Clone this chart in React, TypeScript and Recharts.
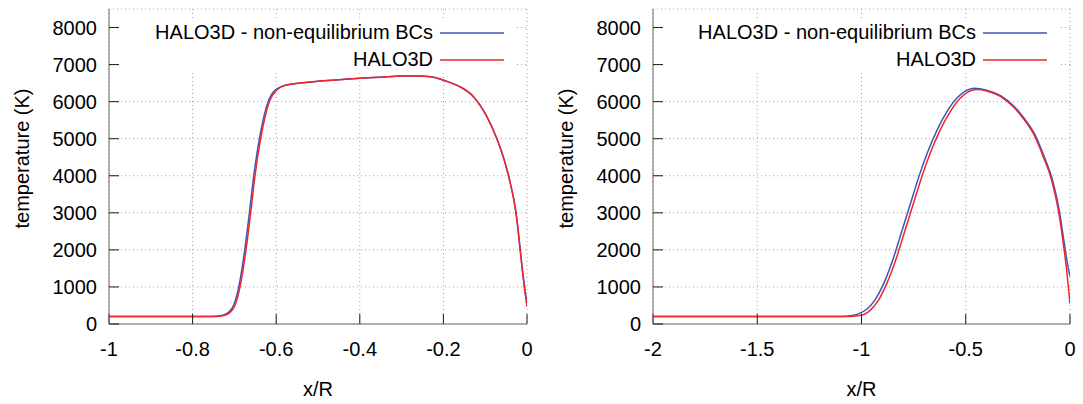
import { LineChart, Line, XAxis, YAxis, CartesianGrid, Legend } from 'recharts'

// temperature profiles, x/R against T (K)
const leftBlueX = [-1, -0.78, -0.745, -0.7255, -0.7135, -0.7016, -0.6896, -0.6752, -0.6641, -0.6537, -0.6402, -0.6194, -0.6015, -0.575, -0.543, -0.5, -0.45, -0.4, -0.35, -0.3, -0.26, -0.23, -0.208, -0.185, -0.16, -0.128, -0.096, -0.0725, -0.06, -0.048, -0.038, -0.031, -0.0245, -0.0158, -0.0063, 0]
const leftBlueT = [200, 200, 210, 245, 320, 510, 1000, 2000, 3000, 4000, 5000, 6000, 6320, 6450, 6500, 6550, 6590, 6630, 6660, 6690, 6695, 6670, 6610, 6520, 6400, 6135, 5595, 5010, 4620, 4170, 3700, 3330, 2860, 1970, 1040, 560]

const leftRedX = [-1, -0.78, -0.742, -0.7225, -0.7105, -0.6986, -0.6866, -0.6722, -0.6611, -0.6507, -0.6372, -0.6164, -0.5989, -0.575, -0.543, -0.5, -0.45, -0.4, -0.35, -0.3, -0.26, -0.23, -0.208, -0.185, -0.16, -0.128, -0.096, -0.0725, -0.06, -0.048, -0.038, -0.031, -0.0247, -0.016, -0.0065, 0]
const leftRedT = [200, 200, 205, 235, 310, 500, 1000, 2000, 3000, 4000, 5000, 6000, 6310, 6450, 6500, 6550, 6590, 6630, 6660, 6690, 6695, 6670, 6610, 6520, 6400, 6135, 5595, 5010, 4620, 4170, 3700, 3330, 2850, 1950, 1000, 470]

const rightBlueX = [-2, -1.2, -1.1, -1.05, -1.013, -0.972, -0.932, -0.892, -0.844, -0.804, -0.764, -0.724, -0.684, -0.636, -0.588, -0.54, -0.5, -0.46, -0.4, -0.333, -0.268, -0.22, -0.172, -0.124, -0.084, -0.052, -0.028, -0.012, 0]
const rightBlueT = [200, 200, 205, 225, 280, 410, 680, 1110, 1830, 2550, 3270, 3990, 4620, 5250, 5750, 6110, 6290, 6360, 6310, 6160, 5870, 5550, 5150, 4520, 3890, 3080, 2200, 1620, 1280]

const rightRedX = [-2, -1.2, -1.06, -1.0, -0.959, -0.919, -0.879, -0.831, -0.791, -0.751, -0.711, -0.671, -0.623, -0.575, -0.528, -0.488, -0.448, -0.4, -0.336, -0.272, -0.224, -0.176, -0.128, -0.088, -0.056, -0.032, -0.016, -0.0064, 0]
const rightRedT = [200, 200, 205, 234, 369, 639, 1089, 1809, 2529, 3249, 3969, 4600, 5230, 5725, 6085, 6265, 6330, 6290, 6150, 5860, 5545, 5140, 4510, 3880, 3070, 2170, 1450, 910, 550]

const tempTicks = [0, 1000, 2000, 3000, 4000, 5000, 6000, 7000, 8000]
const leftTicks = [-1, -0.8, -0.6, -0.4, -0.2, 0]
const rightTicks = [-2, -1.5, -1, -0.5, 0]

const seriesNames = ['HALO3D - non-equilibrium BCs', 'HALO3D']

const FONT = '"Liberation Sans", Arial, sans-serif'
const BLUE = '#3a57b8'
const RED = '#f0242c'
const seriesColors = [BLUE, RED]
const FRAME = '#6a6a6a'
const TICK = '#1a1a1a'
const H = 404
const TOP = 9
const RIGHT = 13

const toPoints = (xs: number[], ts: number[]) => xs.map((x, i) => ({ x, t: ts[i] }))

const tickFont = { fontSize: 20, fontFamily: FONT, fill: '#000' }

// opaque key box, like gnuplot's "set key opaque"
function Key() {
  return (
    <div style={{ background: '#fff', height: 54, paddingRight: 12, fontFamily: FONT, fontSize: 20, color: '#000' }}>
      {seriesNames.map((name, i) => (
        <div key={name} style={{ display: 'flex', justifyContent: 'flex-end', alignItems: 'center', height: 27, lineHeight: '27px' }}>
          <span>{name}</span>
          <svg width={64} height={4} style={{ marginLeft: 7 }}>
            <line x1={0} y1={2} x2={64} y2={2} stroke={seriesColors[i]} strokeWidth={1.5} />
          </svg>
        </div>
      ))}
    </div>
  )
}

function yTitle(props: any) {
  const vb = props.viewBox
  const cx = vb.x + vb.width - 87
  const cy = vb.y + vb.height / 2 - 8
  return (
    <text x={cx} y={cy} transform={`rotate(-90 ${cx} ${cy})`} textAnchor="middle" dominantBaseline="central"
      style={{ fontSize: 20, fontFamily: FONT, fill: '#000' }}>
      temperature (K)
    </text>
  )
}

interface PanelProps {
  left: number
  width: number
  axisWidth: number
  xTicks: number[]
  blue: { x: number; t: number }[]
  red: { x: number; t: number }[]
}

function Panel({ left, width, axisWidth, xTicks, blue, red }: PanelProps) {
  const plotW = width - axisWidth - RIGHT
  const domain: [number, number] = [xTicks[0], xTicks[xTicks.length - 1]]
  return (
    <div style={{ position: 'absolute', left, top: 0 }}>
      <LineChart width={width} height={H} margin={{ top: TOP, right: RIGHT, bottom: 0, left: 0 }}>
        <CartesianGrid stroke="#a0a0a0" strokeDasharray="1 3" />
        <XAxis
          type="number" dataKey="x" domain={domain} ticks={xTicks} interval={0} allowDataOverflow
          height={H - 324} tickSize={-10} tickMargin={28}
          axisLine={{ stroke: FRAME }} tickLine={{ stroke: TICK }} tick={tickFont}
          label={{ value: 'x/R', position: 'insideBottom', offset: 8, style: { fontSize: 20, fontFamily: FONT, fill: '#000' } }}
        />
        <XAxis
          xAxisId="top" orientation="top" type="number" dataKey="x" domain={domain} ticks={xTicks} interval={0}
          height={0} tickSize={-10} tickFormatter={() => ''}
          axisLine={{ stroke: FRAME }} tickLine={{ stroke: TICK }}
        />
        <YAxis
          type="number" domain={[0, 8500]} ticks={tempTicks} interval={0} allowDataOverflow
          width={axisWidth} tickSize={-10} tickMargin={22}
          axisLine={{ stroke: FRAME }} tickLine={{ stroke: TICK }} tick={tickFont}
          label={{ content: yTitle }}
        />
        <YAxis
          yAxisId="right" orientation="right" type="number" domain={[0, 8500]} ticks={tempTicks} interval={0}
          width={0} tickSize={-10} tickFormatter={() => ''}
          axisLine={{ stroke: FRAME }} tickLine={{ stroke: TICK }}
        />
        <Legend
          layout="horizontal" verticalAlign="middle" align="center"
          content={<Key />}
          wrapperStyle={{ left: axisWidth + 11, top: TOP + 10, width: plotW - 22, height: 54, margin: 0 }}
        />
        <Line data={blue} dataKey="t" name={seriesNames[0]} type="monotone" stroke={BLUE} strokeWidth={1.5} dot={false} isAnimationActive={false} />
        <Line data={red} dataKey="t" name={seriesNames[1]} type="monotone" stroke={RED} strokeWidth={1.5} dot={false} isAnimationActive={false} />
      </LineChart>
    </div>
  )
}

export default function App() {
  return (
    <div style={{ position: 'absolute', left: 0, top: 0, width: 1083, height: H, background: '#fff' }}>
      <Panel left={0} width={540} axisWidth={109} xTicks={leftTicks}
        blue={toPoints(leftBlueX, leftBlueT)} red={toPoints(leftRedX, leftRedT)} />
      <Panel left={540} width={543} axisWidth={113} xTicks={rightTicks}
        blue={toPoints(rightBlueX, rightBlueT)} red={toPoints(rightRedX, rightRedT)} />
    </div>
  )
}
